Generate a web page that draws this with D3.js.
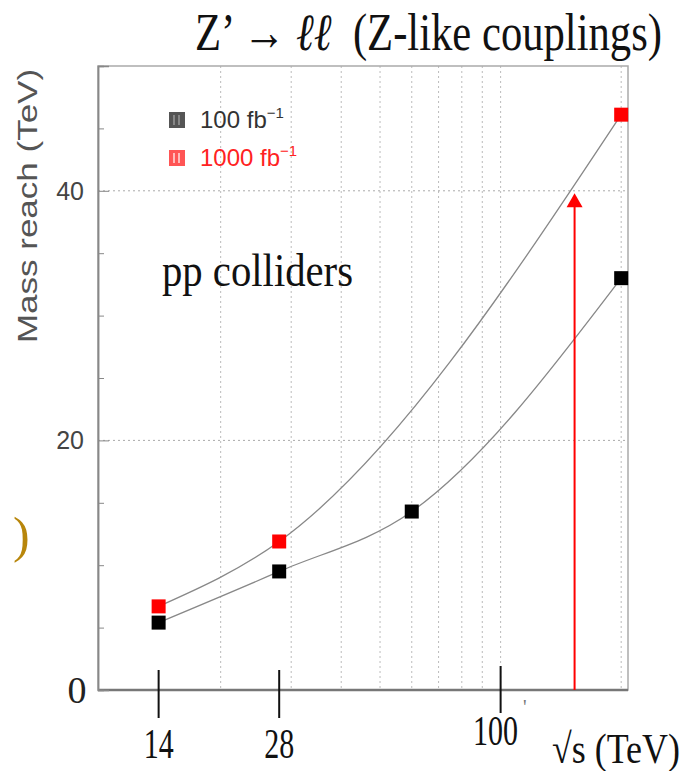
<!DOCTYPE html>
<html>
<head>
  <title>Z' mass reach vs collider energy</title>
  <script src="https://d3js.org/d3.v7.min.js"></script>
  <style>
    body { margin: 0; background: #fff; }
  </style>
</head>
<body>
  <div id="chart"></div>

  <script>
    // values
    var energy100 = [14, 28, 60, 200];
    var reach100 = [5.4, 9.5, 14.3, 33.0];
    var energy1000 = [14, 28, 200];
    var reach1000 = [6.7, 11.9, 46.1];
    var xLabelTicks = [14, 28, 100];
    var xGridTicks = [20, 30, 40, 50, 60, 70, 80, 90, 100, 200];
    var yLabelTicks = [20, 40];
    var yGridTicks = [20, 40];
    var yMinorTicks = [5, 10, 15, 25, 30, 35, 45];
    var arrowEnergy = 153;
    var arrowReach = 39.8;
    var legendLabels = ["100 fb", "1000 fb"];

    var width = 689, height = 771;
    var plotLeft = 98, plotRight = 628, plotTop = 66, plotBottom = 690;
    var serif = "'Liberation Serif', 'Times New Roman', serif";
    var sans = "'Liberation Sans', Arial, sans-serif";

    var svg = d3.select("#chart")
      .append("svg")
      .attr("width", width)
      .attr("height", height);

    var x = d3.scaleLog().domain([9.88, 208]).range([plotLeft, plotRight]);
    var y = d3.scaleLinear().domain([0, 50]).range([plotBottom, plotTop]);

    // grid
    svg.selectAll(".vgrid")
      .data(xGridTicks)
      .enter()
      .append("line")
      .attr("x1", function(d) { return x(d); })
      .attr("x2", function(d) { return x(d); })
      .attr("y1", plotTop)
      .attr("y2", plotBottom)
      .attr("stroke", "#bbb")
      .attr("stroke-width", 1)
      .attr("stroke-dasharray", "2,3");

    svg.selectAll(".hgrid")
      .data(yGridTicks)
      .enter()
      .append("line")
      .attr("x1", plotLeft)
      .attr("x2", plotRight)
      .attr("y1", function(d) { return y(d); })
      .attr("y2", function(d) { return y(d); })
      .attr("stroke", "#aaa")
      .attr("stroke-width", 1)
      .attr("stroke-dasharray", "2,3");

    // frame
    svg.append("rect")
      .attr("x", plotLeft)
      .attr("y", plotTop)
      .attr("width", plotRight - plotLeft)
      .attr("height", plotBottom - plotTop)
      .attr("fill", "none")
      .attr("stroke", "#aaa")
      .attr("stroke-width", 1.5);

    svg.append("line")
      .attr("x1", plotLeft).attr("x2", plotRight)
      .attr("y1", plotBottom).attr("y2", plotBottom)
      .attr("stroke", "#777")
      .attr("stroke-width", 2.5);

    // y axis ticks (inward)
    var yMajor = d3.axisRight(y).tickValues([0, 20, 40]).tickSize(11).tickFormat("");
    var yMinor = d3.axisRight(y).tickValues(yMinorTicks).tickSize(6).tickFormat("");
    [yMajor, yMinor].forEach(function(ax) {
      var g = svg.append("g").attr("transform", "translate(" + plotLeft + ",0)").call(ax);
      g.select(".domain").attr("stroke", "#888").attr("stroke-width", 1.5);
      g.selectAll(".tick line").attr("stroke", "#888");
    });

    svg.selectAll(".ylab")
      .data(yLabelTicks)
      .enter()
      .append("text")
      .attr("x", 84)
      .attr("y", function(d) { return y(d) + 9; })
      .attr("text-anchor", "end")
      .style("font-family", sans)
      .style("font-size", "25px")
      .attr("fill", "#444")
      .text(function(d) { return d; });

    svg.append("text")
      .attr("x", 77)
      .attr("y", y(0) + 13)
      .attr("text-anchor", "middle")
      .style("font-family", serif)
      .style("font-size", "38px")
      .attr("fill", "#222")
      .text("0");

    svg.append("text")
      .attr("transform", "translate(37,206) scale(0.8,1) rotate(-90)")
      .attr("text-anchor", "middle")
      .style("font-family", sans)
      .style("font-size", "35px")
      .attr("fill", "#555")
      .text("Mass reach (TeV)");

    // x axis: long ticks at the labelled energies
    svg.selectAll(".xtick")
      .data(xLabelTicks)
      .enter()
      .append("line")
      .attr("x1", function(d) { return x(d); })
      .attr("x2", function(d) { return x(d); })
      .attr("y1", function(d) { return d == 100 ? 666 : 670; })
      .attr("y2", function(d) { return d == 100 ? 713 : 718; })
      .attr("stroke", "#111")
      .attr("stroke-width", 2);

    svg.selectAll(".xlab")
      .data(xLabelTicks)
      .enter()
      .append("text")
      .attr("x", function(d) { return x(d) - (d == 100 ? 5 : 0); })
      .attr("y", function(d) { return d == 100 ? 745 : 758; })
      .attr("text-anchor", "middle")
      .attr("textLength", function(d) { return String(d).length * 15; })
      .attr("lengthAdjust", "spacingAndGlyphs")
      .style("font-family", serif)
      .style("font-size", "42px")
      .attr("fill", "#111")
      .text(function(d) { return d; });

    svg.append("text")
      .attr("x", x(115))
      .attr("y", 714)
      .attr("text-anchor", "middle")
      .style("font-family", serif)
      .style("font-size", "20px")
      .attr("fill", "#777")
      .text("'");

    svg.append("text")
      .attr("x", 552)
      .attr("y", 763)
      .attr("textLength", 128)
      .attr("lengthAdjust", "spacingAndGlyphs")
      .style("font-family", serif)
      .style("font-size", "42px")
      .attr("fill", "#111")
      .text("\u221As (TeV)");

    // curves through the points
    var line = d3.line()
      .x(function(d) { return x(d[0]); })
      .y(function(d) { return y(d[1]); })
      .curve(d3.curveMonotoneX);

    var pts100 = d3.zip(energy100, reach100);
    var pts1000 = d3.zip(energy1000, reach1000);

    [pts100, pts1000].forEach(function(pts) {
      svg.append("path")
        .attr("d", line(pts))
        .attr("fill", "none")
        .attr("stroke", "#888")
        .attr("stroke-width", 1.3);
    });

    // arrow
    var ax = x(arrowEnergy), ay = y(arrowReach);
    svg.append("line")
      .attr("x1", ax)
      .attr("x2", ax)
      .attr("y1", y(0))
      .attr("y2", ay + 12)
      .attr("stroke", "#ff0000")
      .attr("stroke-width", 2);

    svg.append("path")
      .attr("d", "M" + ax + "," + ay + " L" + (ax - 8) + "," + (ay + 14) + " L" + (ax + 8) + "," + (ay + 14) + " Z")
      .attr("fill", "#ff0000");

    // markers
    var size = 14;
    svg.selectAll(".m1000")
      .data(pts1000)
      .enter()
      .append("rect")
      .attr("x", function(d) { return x(d[0]) - size / 2; })
      .attr("y", function(d) { return y(d[1]) - size / 2; })
      .attr("width", size)
      .attr("height", size)
      .attr("fill", "#ff0000");

    svg.selectAll(".m100")
      .data(pts100)
      .enter()
      .append("rect")
      .attr("x", function(d) { return x(d[0]) - size / 2; })
      .attr("y", function(d) { return y(d[1]) - size / 2; })
      .attr("width", size)
      .attr("height", size)
      .attr("fill", "#000");

    // legend
    var legendColors = [
      { box: "#555", line: "#aaa", text: "#333" },
      { box: "#ff5555", line: "#fff", text: "#ff2222" }
    ];
    legendLabels.forEach(function(lab, i) {
      var ly = 112 + i * 38;
      var c = legendColors[i];
      svg.append("rect")
        .attr("x", 169).attr("y", ly)
        .attr("width", 16).attr("height", 16)
        .attr("fill", c.box);
      [174, 179].forEach(function(lx) {
        svg.append("line")
          .attr("x1", lx).attr("x2", lx)
          .attr("y1", ly + 3).attr("y2", ly + 13)
          .attr("stroke", c.line)
          .attr("stroke-width", 1.2);
      });
      var t = svg.append("text")
        .attr("x", 200)
        .attr("y", ly + 16)
        .style("font-family", sans)
        .style("font-size", "24px")
        .attr("fill", c.text)
        .text(lab);
      t.append("tspan")
        .attr("dy", -10)
        .style("font-size", "15px")
        .text("\u22121");
    });

    // annotations
    svg.append("text")
      .attr("x", 162)
      .attr("y", 286)
      .attr("textLength", 191)
      .attr("lengthAdjust", "spacingAndGlyphs")
      .style("font-family", serif)
      .style("font-size", "46px")
      .attr("fill", "#111")
      .text("pp colliders");

    var title = svg.append("text")
      .attr("x", 195)
      .attr("y", 50)
      .attr("textLength", 467)
      .attr("lengthAdjust", "spacingAndGlyphs")
      .style("font-family", serif)
      .style("font-size", "52px")
      .attr("fill", "#111");
    title.append("tspan").text("Z\u2019 \u2192 ");
    title.append("tspan").style("font-style", "italic").text("\u2113\u2113");
    title.append("tspan").text("\u00A0\u00A0(Z-like couplings)");

    svg.append("text")
      .attr("x", 13)
      .attr("y", 552)
      .style("font-family", serif)
      .style("font-size", "50px")
      .attr("fill", "#b8860b")
      .text(")");
  </script>
</body>
</html>
